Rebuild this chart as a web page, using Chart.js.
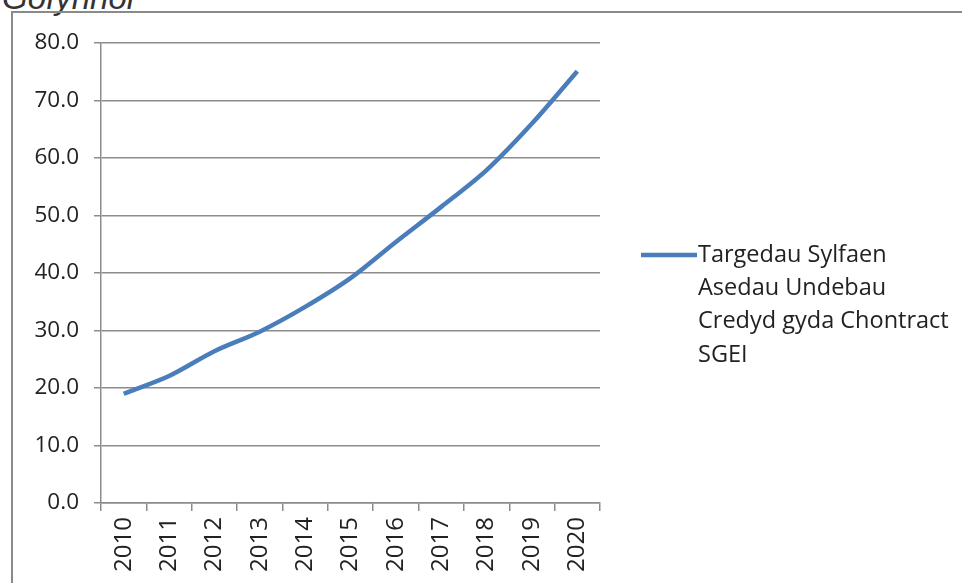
<!DOCTYPE html>
<html>
<head>
<meta charset="utf-8">
<script src="https://cdn.jsdelivr.net/npm/chart.js@4/dist/chart.umd.min.js"></script>
<style>
    html, body { margin: 0; padding: 0; background: #fff; overflow: hidden; }
    #wrap { position: relative; width: 962px; height: 583px; }
    #frame { position: absolute; left: 11px; top: 11px; width: 960px; height: 580px;
             border-left: 2px solid #8a8a8a; border-top: 2px solid #8a8a8a; }
    #heading { position: absolute; left: 2px; top: -21px; line-height: 1; font: italic 33px "Liberation Sans", Arial, sans-serif; color: #333; }
    canvas { position: absolute; left: 0; top: 0; }
</style>
</head>
<body>
<div id="wrap">
    <div id="heading">Gofynnol</div>
    <div id="frame"></div>
    <canvas id="targets" width="962" height="583"></canvas>
</div>
<script>
// Data
const years = ["2010", "2011", "2012", "2013", "2014", "2015", "2016", "2017", "2018", "2019", "2020"];
const targetValues = [19.0, 22.1, 26.4, 29.8, 34.1, 39.1, 45.4, 51.5, 57.9, 66.0, 75.1];
const legendLines = ["Targedau Sylfaen", "Asedau Undebau", "Credyd gyda Chontract", "SGEI"];
const yMin = 0, yMax = 80, yStep = 10;

const lineColor = "#4a7ebb";
const gridColor = "#8c8c8c";
const textColor = "#222";
const family = "'Open Sans', sans-serif";

// legende dessinee a la main (libelle sur plusieurs lignes)
const sideLegend = {
    id: "sideLegend",
    afterDraw(chart) {
        const ctx = chart.ctx;
        const x0 = 641, y0 = 255, lh = 33.3;
        ctx.save();
        ctx.strokeStyle = lineColor;
        ctx.lineWidth = 4.5;
        ctx.beginPath();
        ctx.moveTo(x0, y0);
        ctx.lineTo(x0 + 56, y0);
        ctx.stroke();
        ctx.fillStyle = textColor;
        ctx.font = `23.5px ${family}`;
        ctx.textBaseline = "middle";
        legendLines.forEach((t, i) => ctx.fillText(t, x0 + 57, y0 + i * lh));
        ctx.restore();
    }
};

const graphTargets = new Chart(document.getElementById("targets"), {
    type: "line",
    data: {
        labels: years,
        datasets: [{
            label: legendLines.join(" "),
            data: targetValues,
            borderColor: lineColor,
            borderWidth: 4.5,
            pointRadius: 0,
            tension: 0.3,
            fill: false
        }]
    },
    options: {
        responsive: false,
        animation: false,
        layout: { padding: { left: 0, top: 43, right: 362, bottom: 0 } },
        plugins: {
            legend: { display: false },
            tooltip: { enabled: false }
        },
        scales: {
            x: {
                offset: true,
                grid: { offset: true, drawOnChartArea: false, drawTicks: true, tickLength: 8, color: gridColor, lineWidth: 1.5 },
                border: { display: true, color: gridColor, width: 1.5 },
                ticks: { color: textColor, font: { family: family, size: 24 }, minRotation: 90, maxRotation: 90, autoSkip: false, padding: 6 },
                afterFit(scale) { scale.height = 80; }
            },
            y: {
                min: yMin,
                max: yMax,
                grid: { color: gridColor, lineWidth: 1.5, tickLength: 7 },
                border: { display: true, color: gridColor, width: 1.5 },
                ticks: {
                    stepSize: yStep,
                    color: textColor,
                    font: { family: family, size: 22.5 },
                    padding: 15,
                    callback: v => v.toFixed(1)
                },
                afterFit(scale) { scale.width = 101; }
            }
        }
    },
    plugins: [sideLegend]
});
</script>
</body>
</html>
